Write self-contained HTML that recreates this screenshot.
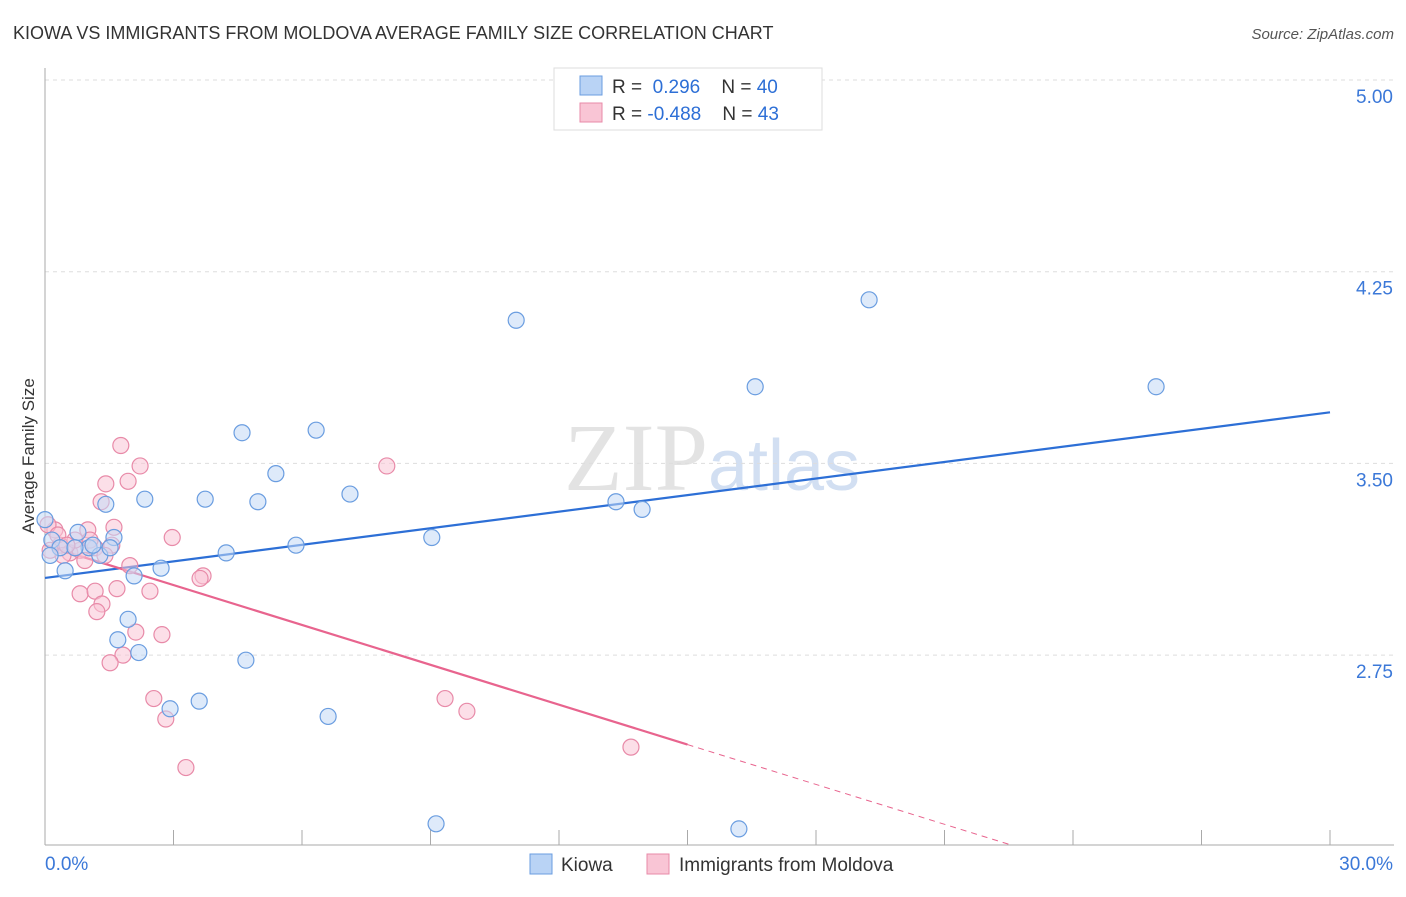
<!DOCTYPE html>
<html><head><meta charset="utf-8"><style>
body{margin:0;background:#fff;font-family:"Liberation Sans",sans-serif}
</style></head><body>
<svg id="c" width="1406" height="892" xmlns="http://www.w3.org/2000/svg" font-family="Liberation Sans, sans-serif">
<text x="13" y="39" font-size="18" fill="#333">KIOWA VS IMMIGRANTS FROM MOLDOVA AVERAGE FAMILY SIZE CORRELATION CHART</text>
<text x="1394" y="39" font-size="15" fill="#555" text-anchor="end" font-style="italic">Source: ZipAtlas.com</text>
<text x="712" y="490" font-size="96" fill="#ddd" text-anchor="middle" font-family="Liberation Serif, serif" opacity="0.8">ZIP<tspan fill="#c8d8ef" font-family="Liberation Sans, sans-serif" font-size="72">atlas</tspan></text>
<g id="grid"></g>
<g id="axes"></g>
<g id="lines"></g>
<g id="pts"></g>
<text transform="translate(34,456) rotate(-90)" font-size="17" fill="#333" text-anchor="middle">Average Family Size</text>
<g>
<rect x="554" y="68" width="268" height="62" fill="#fff" stroke="#ddd"/>
<rect x="580" y="76" width="22" height="19" fill="#b9d3f5" stroke="#6a9de0"/>
<rect x="580" y="103" width="22" height="19" fill="#f9c5d5" stroke="#e88aa8"/>
<text x="612" y="93" font-size="19" fill="#333">R = <tspan fill="#2d6fd6">&#160;0.296</tspan>&#160;&#160;&#160; N = <tspan fill="#2d6fd6">40</tspan></text>
<text x="612" y="120" font-size="19" fill="#333">R = <tspan fill="#2d6fd6">-0.488</tspan>&#160;&#160;&#160; N = <tspan fill="#2d6fd6">43</tspan></text>
</g>
<g>
<rect x="530" y="854" width="22" height="20" fill="#b9d3f5" stroke="#6a9de0"/>
<text x="561" y="871" font-size="19" fill="#333">Kiowa</text>
<rect x="647" y="854" width="22" height="20" fill="#f9c5d5" stroke="#e88aa8"/>
<text x="679" y="871" font-size="19" fill="#333">Immigrants from Moldova</text>
</g>
</svg>
<script>
const yTicks=[5.00,4.25,3.50,2.75];
const yTickLabels=["5.00","4.25","3.50","2.75"];
const xLabels=["0.0%","30.0%"];
const kiowaX=[11.0,19.24,16.58,25.94,4.60,6.33,5.39,2.33,3.74,4.97,7.12,1.42,13.33,13.94,9.03,5.86,4.23,0.77,1.61,1.03,1.28,1.52,0.47,2.71,2.08,1.94,1.70,2.19,4.69,2.92,3.60,6.61,9.13,16.20,0,0.16,0.35,0.70,1.12,0.12];
const kiowaY=[4.06,4.14,3.80,3.80,3.62,3.63,3.46,3.36,3.36,3.35,3.38,3.34,3.35,3.32,3.21,3.18,3.15,3.23,3.21,3.17,3.14,3.17,3.08,3.09,3.06,2.89,2.81,2.76,2.73,2.54,2.57,2.51,2.09,2.07,3.28,3.20,3.17,3.17,3.18,3.14];
const moldX=[1.77,2.22,7.98,1.42,1.94,1.31,1.61,1.00,2.97,0.23,0.07,0.35,0.58,0.82,0.93,0.42,1.17,1.98,3.69,3.62,1.68,2.45,0.82,1.17,1.33,1.21,2.12,2.73,1.82,1.52,2.54,9.34,9.85,2.82,3.29,13.68,1.56,0.70,0.12,0.30,0.51,1.05,1.40];
const moldY=[3.57,3.49,3.49,3.42,3.43,3.35,3.25,3.24,3.21,3.24,3.26,3.18,3.15,3.16,3.12,3.14,3.17,3.10,3.06,3.05,3.01,3.00,2.99,3.00,2.95,2.92,2.84,2.83,2.75,2.72,2.58,2.58,2.53,2.50,2.31,2.39,3.18,3.20,3.16,3.22,3.18,3.20,3.14];
const kiowaTrend=[3.052,0.0216]; // intercept, slope per %
const moldTrend=[3.18,-0.052];
const sx=v=>45+v/30*1285;
const sy=v=>80+(5-v)*255.6;
const NS="http://www.w3.org/2000/svg";
function mk(t,a,p){const e=document.createElementNS(NS,t);for(const k in a)e.setAttribute(k,a[k]);p.appendChild(e);return e;}
const grid=document.getElementById('grid'),axes=document.getElementById('axes'),lines=document.getElementById('lines'),pts=document.getElementById('pts');
yTicks.forEach((v,i)=>{
const l=mk('line',{x1:45,x2:1394,y1:sy(v),y2:sy(v),stroke:'#ddd','stroke-dasharray':'4,4'},grid);


const t=mk('text',{x:1393,y:sy(v)+23,'font-size':19,fill:'#3b78d8','text-anchor':'end'},grid);
t.textContent=yTickLabels[i];


});
const ax=mk('line',{x1:45,x2:45,y1:68,y2:845,stroke:'#aaa'},axes);


const bx=mk('line',{x1:45,x2:1394,y1:845,y2:845,stroke:'#aaa'},axes);


for(let i=0;i<=10;i++){const tk=mk('line',{x1:sx(i*3),x2:sx(i*3),y1:830,y2:845,stroke:'#aaa'},axes);

}
const xl0=mk('text',{x:45,y:870,'font-size':19,fill:'#3b78d8'},axes);xl0.textContent=xLabels[0];


const xl1=mk('text',{x:1393,y:870,'font-size':19,fill:'#3b78d8','text-anchor':'end'},axes);xl1.textContent=xLabels[1];


function dot(x,y,f,s,n){const c=mk('circle',{cx:sx(x),cy:sy(y),r:8,fill:f,'fill-opacity':0.55,stroke:s,'stroke-width':1.2},pts);

}
moldX.forEach((x,i)=>dot(x,moldY[i],'#f9c5d5','#e88aa8','moldova-point'));
kiowaX.forEach((x,i)=>dot(x,kiowaY[i],'#c3d9f6','#6a9de0','kiowa-point'));
const bl=mk('line',{x1:sx(0),y1:sy(kiowaTrend[0]),x2:sx(30),y2:sy(kiowaTrend[0]+30*kiowaTrend[1]),stroke:'#2d6fd6','stroke-width':2.2},lines);


const pl=mk('line',{x1:sx(0),y1:sy(moldTrend[0]),x2:sx(15),y2:sy(moldTrend[0]+15*moldTrend[1]),stroke:'#e8648e','stroke-width':2.2},lines);


const pd=mk('line',{x1:sx(15),y1:sy(moldTrend[0]+15*moldTrend[1]),x2:sx(22.5),y2:sy(moldTrend[0]+22.5*moldTrend[1]),stroke:'#e8648e','stroke-width':1,'stroke-dasharray':'6,5'},lines);


</script>
</body></html>
